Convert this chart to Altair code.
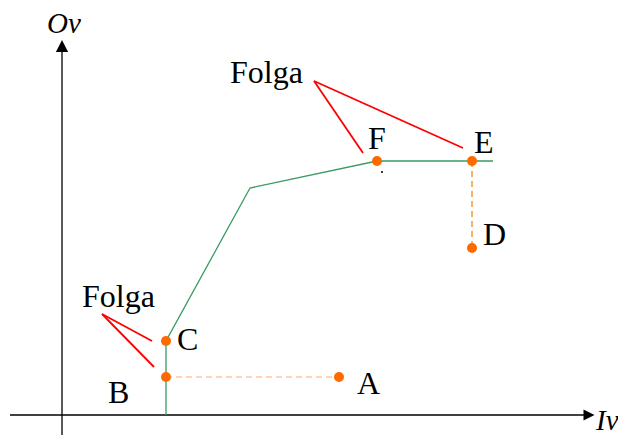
import altair as alt
import pandas as pd

# Diagram coordinates (Iv horizontal, Ov vertical), origin at the axes crossing
green_iv = [104, 104, 104, 188, 315, 431]
green_ov = [0, 38, 74, 227, 254, 254]

pt_names = ["A", "B", "C", "D", "E", "F"]
pt_iv = [277, 104, 104, 410, 410, 315]
pt_ov = [38, 38, 74, 167, 254, 254]

lbl_text = ["A", "B", "C", "D", "E", "F", "Folga", "Folga"]
lbl_iv = [295, 46, 115, 421, 412, 306, 168, 20]
lbl_ov = [21, 12, 65, 170, 262, 266, 332, 108]

# red leader segments (from "Folga" to the gaps)
red_iv = [252, 252, 40, 40]
red_ov = [334, 334, 101, 101]
red_iv2 = [301, 401, 90, 92]
red_ov2 = [262, 267, 74, 48]

# dashed guides: B-A and E-D
dash_iv = [104, 410]
dash_ov = [38, 254]
dash_iv2 = [277, 410]
dash_ov2 = [38, 167]
dash_col = ["#FFC89E", "#F29A3A"]

# axes
axis_iv = [0, -52]
axis_ov = [-25, 0]
axis_iv2 = [0, 523]
axis_ov2 = [363, 0]

xs = alt.Scale(domain=[-54, 556], nice=False, zero=False)
ys = alt.Scale(domain=[-20, 407], nice=False, zero=False)

def X(f="x"):
    return alt.X(f, type="quantitative", scale=xs, axis=None)

def Y(f="y"):
    return alt.Y(f, type="quantitative", scale=ys, axis=None)

axes_df = pd.DataFrame({"x": axis_iv, "y": axis_ov, "x2": axis_iv2, "y2": axis_ov2})
axes = alt.Chart(axes_df).mark_rule(color="black", strokeWidth=1.3).encode(
    x=X(), y=Y(), x2="x2", y2="y2")

arrow_up = alt.Chart(pd.DataFrame({"x": [0], "y": [369]})).mark_point(
    shape="M0,-1L1,1L-1,1Z", size=150, filled=True, color="black", opacity=1
).encode(x=X(), y=Y())
arrow_right = alt.Chart(pd.DataFrame({"x": [527], "y": [0]})).mark_point(
    shape="M1,0L-1,-1L-1,1Z", size=120, filled=True, color="black", opacity=1
).encode(x=X(), y=Y())

green_df = pd.DataFrame({"x": green_iv, "y": green_ov, "o": list(range(len(green_iv)))})
green = alt.Chart(green_df).mark_line(color="#3A9A62", strokeWidth=1.3).encode(
    x=X(), y=Y(), order="o:Q")

dash_df = pd.DataFrame({"x": dash_iv, "y": dash_ov, "x2": dash_iv2, "y2": dash_ov2, "c": dash_col})
dashes = alt.Chart(dash_df).mark_rule(strokeDash=[6, 4], strokeWidth=1.5).encode(
    x=X(), y=Y(), x2="x2", y2="y2", color=alt.Color("c:N", scale=None))

red_df = pd.DataFrame({"x": red_iv, "y": red_ov, "x2": red_iv2, "y2": red_ov2})
reds = alt.Chart(red_df).mark_rule(color="#FF0000", strokeWidth=1.8).encode(
    x=X(), y=Y(), x2="x2", y2="y2")

pts_df = pd.DataFrame({"x": pt_iv, "y": pt_ov, "n": pt_names})
pts = alt.Chart(pts_df).mark_point(filled=True, color="#FF6A00", size=100, opacity=1).encode(
    x=X(), y=Y())

dot = alt.Chart(pd.DataFrame({"x": [320], "y": [243]})).mark_point(
    filled=True, color="black", size=4, opacity=1).encode(x=X(), y=Y())

lbl_df = pd.DataFrame({"x": lbl_iv, "y": lbl_ov, "t": lbl_text})
labels = alt.Chart(lbl_df).mark_text(
    font="Liberation Serif", fontSize=32, align="left", baseline="alphabetic", color="black"
).encode(x=X(), y=Y(), text="t:N")

ax_lbl_df = pd.DataFrame({"x": [-15, 534], "y": [382, -15], "t": ["Ov", "Iv"]})
ax_labels = alt.Chart(ax_lbl_df).mark_text(
    font="Liberation Serif", fontSize=29, fontStyle="italic", align="left",
    baseline="alphabetic", color="black"
).encode(x=X(), y=Y(), text="t:N")

chart = alt.layer(
    axes, arrow_up, arrow_right, dashes, green, reds, pts, dot, labels, ax_labels
).properties(
    width=610, height=427, padding=0, autosize=alt.AutoSizeParams(type="none")
).configure_view(stroke=None)

chart.save("out.html", embed_options={"renderer": "svg", "actions": False})
